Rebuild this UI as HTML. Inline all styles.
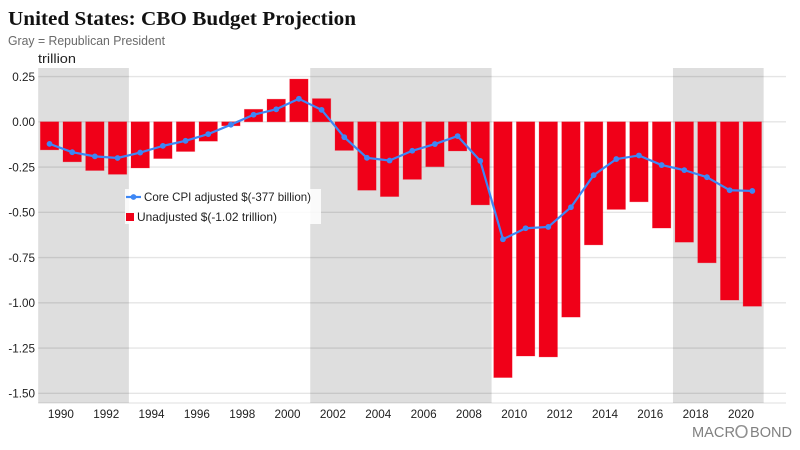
<!DOCTYPE html>
<html>
<head>
<meta charset="utf-8">
<title>United States: CBO Budget Projection</title>
<style>
html,body{margin:0;padding:0;background:#fff;width:800px;height:450px;overflow:hidden}
svg{display:block}
text{font-family:"Liberation Sans",Arial,sans-serif}
</style>
</head>
<body>
<svg id="chart" xmlns="http://www.w3.org/2000/svg" width="800" height="450" viewBox="0 0 800 450">
  <rect x="0" y="0" width="800" height="450" fill="#ffffff"/>
  <text x="8" y="25" textLength="348" lengthAdjust="spacingAndGlyphs" style="font-family:'Liberation Serif',serif;font-weight:bold;font-size:20px" fill="#111111">United States: CBO Budget Projection</text>
  <text x="8" y="45" textLength="157" lengthAdjust="spacingAndGlyphs" font-size="13" fill="#6a6a6a">Gray = Republican President</text>
  <text x="38" y="63" textLength="38" lengthAdjust="spacingAndGlyphs" font-size="13" fill="#222222">trillion</text>
  <g id="bands"></g>
  <g id="grid"></g>
  <g id="ylabels"></g>
  <g id="xlabels"></g>
  <g id="bars"></g>
  <g id="line"></g>
  <g>
    <rect x="125" y="189" width="196" height="35" fill="#ffffff" fill-opacity="0.85"/>
    <g>
      <line x1="126" y1="197" x2="141" y2="197" stroke="#3d87f5" stroke-width="2.2"/>
      <circle cx="133.5" cy="197" r="2.9" fill="#3d87f5"/>
      <text x="144" y="201" textLength="167" lengthAdjust="spacingAndGlyphs" font-size="11.7" fill="#222222">Core CPI adjusted $(-377 billion)</text>
    </g>
    <g>
      <rect x="126" y="213" width="8" height="8" fill="#f00018"/>
      <text x="137" y="221" textLength="140" lengthAdjust="spacingAndGlyphs" font-size="11.7" fill="#222222">Unadjusted $(-1.02 trillion)</text>
    </g>
  </g>
  <text y="437" font-size="15" fill="#808080"><tspan x="692" textLength="43" lengthAdjust="spacingAndGlyphs">MACR</tspan><tspan x="734.5" y="438" font-size="18" fill="#909090">O</tspan><tspan x="750" y="437" textLength="42" lengthAdjust="spacingAndGlyphs">BOND</tspan></text>
</svg>
<script>
var years = [1989,1990,1991,1992,1993,1994,1995,1996,1997,1998,1999,2000,2001,2002,2003,2004,2005,2006,2007,2008,2009,2010,2011,2012,2013,2014,2015,2016,2017,2018,2019,2020];
var unadjusted = [-0.155,-0.221,-0.269,-0.290,-0.255,-0.203,-0.164,-0.107,-0.022,0.069,0.125,0.236,0.128,-0.158,-0.378,-0.413,-0.318,-0.248,-0.161,-0.459,-1.413,-1.294,-1.299,-1.079,-0.680,-0.484,-0.442,-0.587,-0.665,-0.779,-0.985,-1.019];
var coreCpi = [-0.122,-0.168,-0.191,-0.200,-0.170,-0.133,-0.105,-0.068,-0.016,0.039,0.069,0.127,0.066,-0.085,-0.199,-0.214,-0.160,-0.123,-0.079,-0.216,-0.649,-0.588,-0.581,-0.472,-0.295,-0.206,-0.186,-0.239,-0.267,-0.306,-0.378,-0.382];
var yTicks = [0.25,0,-0.25,-0.5,-0.75,-1,-1.25,-1.5];
var yTickLabels = ["0.25","0.00","-0.25","-0.50","-0.75","-1.00","-1.25","-1.50"];
var xTicks = [1990,1992,1994,1996,1998,2000,2002,2004,2006,2008,2010,2012,2014,2016,2018,2020];
var republicanStart = [1989,2001,2017];
var republicanEnd = [1993,2009,2021];

var NS = "http://www.w3.org/2000/svg";
var plotLeft = 38.2, plotRight = 786, plotTop = 68, plotBottom = 403;
var yearWidth = 22.67, zeroY = 121.8, unitHeight = 181, barWidth = 18.4;
function xAt(year){ return plotLeft + (year - 1989) * yearWidth; }
function yAt(value){ return zeroY - value * unitHeight; }
function mk(tag, parent, attrs){
  var el = document.createElementNS(NS, tag);
  for (var k in attrs){ el.setAttribute(k, attrs[k]); }
  document.getElementById(parent).appendChild(el);
  return el;
}

republicanStart.forEach(function(s, i){
  var band = mk("rect", "bands", {x: xAt(s), y: plotTop, width: xAt(republicanEnd[i]) - xAt(s), height: plotBottom - plotTop, fill: "#dedede"});
  
  
});

yTicks.forEach(function(t, i){
  var gl = mk("line", "grid", {x1: plotLeft, x2: plotRight, y1: yAt(t), y2: yAt(t), stroke: "#000000", "stroke-opacity": "0.1", "stroke-width": "1.3"});
  
  
  var lb = mk("text", "ylabels", {x: 35, y: yAt(t) + 4.4, "text-anchor": "end", "font-size": "11.7", fill: "#222222"});
  
  
  lb.textContent = yTickLabels[i];
});

var axisLine = mk("line", "grid", {x1: plotLeft, x2: plotRight, y1: plotBottom, y2: plotBottom, stroke: "#000000", "stroke-opacity": "0.1", "stroke-width": "1.2"});



xTicks.forEach(function(y){
  var lb = mk("text", "xlabels", {x: xAt(y), y: 418, "text-anchor": "middle", "font-size": "11.7", fill: "#222222"});
  
  
  lb.textContent = String(y);
});

years.forEach(function(y, i){
  var v = unadjusted[i];
  var top = Math.min(yAt(v), yAt(0));
  var h = Math.abs(yAt(v) - yAt(0));
  var bar = mk("rect", "bars", {x: xAt(y + 0.5) - barWidth / 2, y: top, width: barWidth, height: h, fill: "#f00018", stroke: "#f00018", "stroke-opacity": "0.3", "stroke-width": "0.8"});
  
  
});

var pts = years.map(function(y, i){ return xAt(y + 0.5).toFixed(2) + "," + yAt(coreCpi[i]).toFixed(2); }).join(" ");
var path = mk("polyline", "line", {points: pts, fill: "none", stroke: "#3d87f5", "stroke-width": "2.2", "stroke-linejoin": "round"});


years.forEach(function(y, i){
  var dot = mk("circle", "line", {cx: xAt(y + 0.5), cy: yAt(coreCpi[i]), r: 2.9, fill: "#3d87f5"});
  
  
});
</script>
</body>
</html>
